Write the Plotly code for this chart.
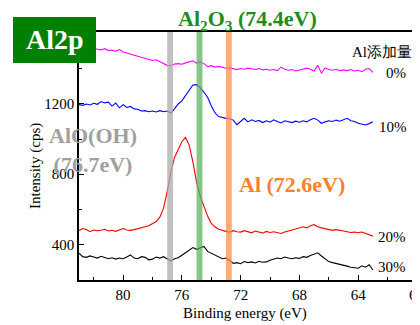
import plotly.graph_objects as go

energy = [83.00 - 0.25 * i for i in range(81)]

series_names = ["0%", "10%", "20%", "30%"]
series_colors = ["#ff00ff", "#0000ff", "#ff0000", "#000000"]

cps_0 = [1535, 1528, 1530, 1522, 1518, 1512, 1508, 1515, 1504, 1507, 1500, 1510,
         1496, 1490, 1486, 1478, 1472, 1465, 1460, 1455, 1448, 1452, 1440, 1432,
         1420, 1418, 1428, 1430, 1426, 1434, 1438, 1446, 1432, 1440, 1430, 1412,
         1418, 1410, 1414, 1408, 1404, 1406, 1400, 1396, 1402, 1398, 1404, 1400,
         1396, 1402, 1394, 1398, 1392, 1396, 1390, 1410, 1398, 1392, 1396, 1388,
         1392, 1400, 1404, 1398, 1388, 1420, 1375, 1405, 1396, 1392, 1398, 1390,
         1394, 1390, 1396, 1388, 1392, 1384, 1398, 1402, 1380]
cps_10 = [1196, 1192, 1200, 1194, 1204, 1198, 1214, 1206, 1210, 1188, 1205, 1178,
          1196, 1180, 1186, 1172, 1170, 1160, 1162, 1156, 1160, 1154, 1162, 1156,
          1160, 1148, 1172, 1200, 1218, 1248, 1280, 1308, 1310, 1292, 1268, 1238,
          1190, 1150, 1128, 1122, 1118, 1116, 1108, 1082, 1100, 1118, 1098, 1110,
          1100, 1106, 1094, 1104, 1096, 1110, 1100, 1092, 1104, 1098, 1094, 1102,
          1096, 1104, 1098, 1110, 1118, 1108, 1090, 1098, 1104, 1100, 1108, 1102,
          1112, 1118, 1104, 1100, 1090, 1084, 1080, 1088, 1098]
cps_20 = [478, 490, 484, 472, 482, 478, 480, 486, 476, 480, 474, 484,
          490, 482, 480, 484, 488, 496, 500, 506, 516, 530, 555, 605,
          700, 810, 895, 945, 985, 1010, 965, 870, 755, 675, 620, 562,
          520, 500, 486, 478, 474, 470, 478, 472, 470, 478, 474, 466,
          476, 470, 464, 474, 468, 472, 466, 462, 470, 478, 482, 488,
          496, 500, 494, 506, 512, 500, 494, 488, 482, 480, 484, 478,
          476, 472, 468, 470, 466, 470, 462, 456, 447]
cps_30 = [350, 330, 326, 334, 328, 322, 332, 326, 318, 324, 316, 322,
          318, 328, 340, 322, 318, 330, 326, 312, 316, 328, 322, 330,
          318, 306, 318, 324, 338, 352, 364, 382, 372, 378, 388, 360,
          350, 340, 330, 318, 322, 310, 292, 296, 290, 302, 296, 300,
          294, 304, 298, 300, 310, 318, 322, 318, 328, 322, 318, 324,
          320, 330, 326, 336, 346, 352, 334, 318, 302, 296, 292, 288,
          282, 276, 270, 266, 264, 278, 270, 284, 254]
series_values = [cps_0, cps_10, cps_20, cps_30]

band_centers = [76.8, 74.8, 72.8]
band_colors = ["rgba(171,171,171,0.75)", "rgba(90,175,90,0.72)", "rgba(255,142,74,0.75)"]
band_half = 0.2

x_ticks = [80, 76, 72, 68, 64]
x_minor = [82, 78, 74, 70, 66, 62]
y_ticks = [400, 800, 1200]
y_minor = [600, 1000, 1400]

FONT = "Liberation Serif"

# page has an 8px body margin; positions below are in screen pixels
W, H = 412, 317
L, R, T, B = 71, 7, 24, 45
PW, PH = W - L - R, H - T - B
SX0, SY0 = 79, 32  # screen position of plot top-left


def px(xp):
    return (xp - SX0) / PW


def py(yp):
    return 1 - (yp - SY0) / PH


fig = go.Figure()
for name, vals, col in zip(series_names, series_values, series_colors):
    fig.add_trace(go.Scatter(x=energy, y=vals, mode="lines", name=name,
                             line=dict(color=col, width=1.1), showlegend=False))

shapes = []
for c, col in zip(band_centers, band_colors):
    shapes.append(dict(type="rect", xref="x", yref="paper", x0=c - band_half, x1=c + band_half,
                       y0=0, y1=1, fillcolor=col, line=dict(width=0), layer="above"))
shapes.append(dict(type="line", xref="paper", yref="paper", x0=1, x1=1, y0=0, y1=1,
                   line=dict(color="#777777", width=1)))
shapes.append(dict(type="rect", xref="paper", yref="paper", x0=px(13), x1=px(96),
                   y0=py(63), y1=py(17), fillcolor="#008000", line=dict(width=0), layer="above"))

ann = []


def add(text, xp, yp, size, color="black", angle=0):
    ann.append(dict(text=text, x=px(xp), y=py(yp), xref="paper", yref="paper",
                    showarrow=False, textangle=angle,
                    font=dict(family=FONT, size=size, color=color),
                    xanchor="center", yanchor="middle"))


add("<b>Al2p</b>", 54.5, 40, 28, "white")
add("<b>Al<sub>2</sub>O<sub>3</sub> (74.4eV)</b>", 247, 20.5, 22, "#1f8c1f")
add("<b>AlO(OH)<br>(76.7eV)</b>", 93, 150, 22, "#a0a0a0")
add("<b>Al (72.6eV)</b>", 291.7, 184, 22, "#ff7f2a")
add("Al添加量", 381.5, 51.7, 15)
label_pos = [(396, 72.7), (393, 126.7), (392, 236.7), (392, 267)]
for name, (xp, yp) in zip(series_names, label_pos):
    add(name, xp, yp, 15)
add("Binding energy (eV)", 245, 313, 15)
add("Intensity (cps)", 35, 166, 15, angle=-90)
add("60", 416.7, 295, 15)

fig.update_layout(
    width=W, height=H,
    margin=dict(l=L, r=R, t=T, b=B, pad=0),
    paper_bgcolor="white", plot_bgcolor="white",
    shapes=shapes, annotations=ann,
    xaxis=dict(range=[83, 60.27], tickvals=x_ticks, ticks="inside", ticklen=5, tickwidth=1,
               tickcolor="black", showgrid=False, zeroline=False, showline=True,
               linecolor="black", linewidth=1.5, mirror=True,
               tickfont=dict(family=FONT, size=15, color="black"),
               minor=dict(tickvals=x_minor, ticks="inside", ticklen=3,
                          tickcolor="black", showgrid=False)),
    yaxis=dict(range=[197, 1610], tickvals=y_ticks, ticks="inside", ticklen=5, tickwidth=1,
               tickcolor="black", showgrid=False, zeroline=False, showline=True,
               linecolor="black", linewidth=1.5, mirror=False,
               tickfont=dict(family=FONT, size=15, color="black"),
               minor=dict(tickvals=y_minor, ticks="inside", ticklen=3,
                          tickcolor="black", showgrid=False)),
)

fig.write_html("out.html")
